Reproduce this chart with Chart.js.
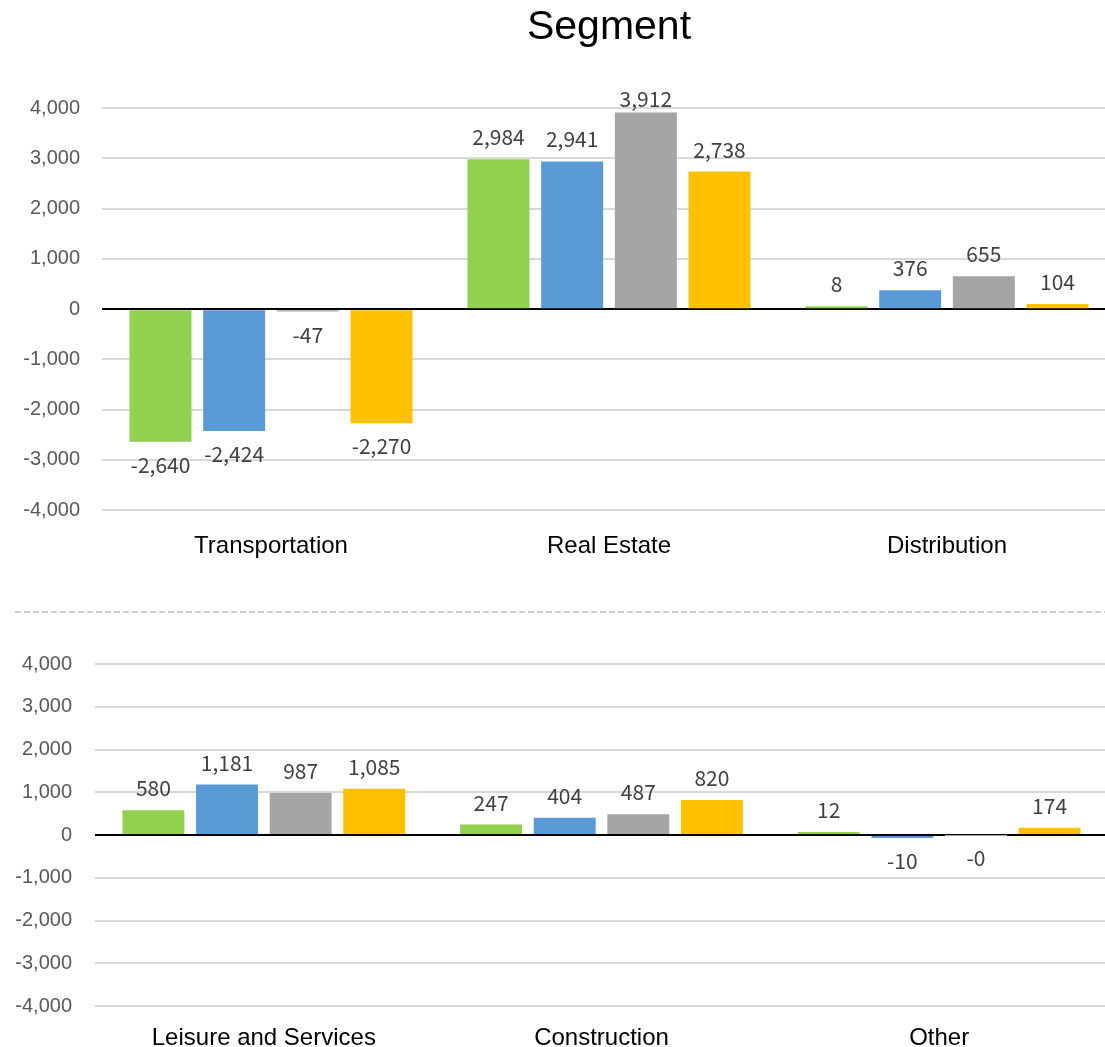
<!DOCTYPE html>
<html>
<head>
<meta charset="utf-8">
<title>Segment</title>
<script src="https://cdn.jsdelivr.net/npm/chart.js@4/dist/chart.umd.min.js"></script>
<style>
  html, body {
    margin: 0;
    padding: 0;
    width: 1105px;
    height: 1047px;
    overflow: hidden;
    background: #fff;
  }
  canvas {
    position: absolute;
    left: 0;
  }
  #top-chart { top: 0; }
  #bottom-chart { top: 620px; }
  .divider {
    position: absolute;
    left: 15px;
    top: 611px;
    width: 1090px;
    height: 2px;
    background: repeating-linear-gradient(to right, #cfcfcf 0 6px, transparent 6px 9px);
  }
</style>
</head>
<body>
<canvas id="top-chart" width="1120" height="593"></canvas>
<div class="divider"></div>
<canvas id="bottom-chart" width="1120" height="451"></canvas>

<script>
// Data
const topCategories = ['Transportation', 'Real Estate', 'Distribution'];
const bottomCategories = ['Leisure and Services', 'Construction', 'Other'];
const seriesNames = ['Series 1', 'Series 2', 'Series 3', 'Series 4'];

const series1Top = [-2640, 2984, 8];
const series2Top = [-2424, 2941, 376];
const series3Top = [-47, 3912, 655];
const series4Top = [-2270, 2738, 104];

const series1Bottom = [580, 247, 12];
const series2Bottom = [1181, 404, -10];
const series3Bottom = [987, 487, -0.3];
const series4Bottom = [1085, 820, 174];

const yMin = -4000;
const yMax = 4000;
const yStep = 1000;

const colors = ['#92D050', '#5B9BD5', '#A5A5A5', '#FFC000'];
const fmt = new Intl.NumberFormat('en-US', { maximumFractionDigits: 0 });

// Value labels above / below each bar
const valueLabels = {
  id: 'valueLabels',
  afterDatasetsDraw(chart) {
    const { ctx, chartArea } = chart;
    ctx.save();
    ctx.font = '21px "Noto Sans CJK KR", "Liberation Sans", sans-serif';
    ctx.fillStyle = '#404040';
    ctx.textAlign = 'center';
    ctx.textBaseline = 'middle';
    chart.data.datasets.forEach((ds, di) => {
      const meta = chart.getDatasetMeta(di);
      meta.data.forEach((bar, i) => {
        const v = ds.data[i];
        let y = v >= 0 ? bar.y - 22 : bar.y + 23;
        y = Math.max(y, chartArea.top - 9);
        ctx.fillText(fmt.format(v), bar.x, y);
      });
    });
    ctx.restore();
  }
};

function buildDatasets(valueLists) {
  return valueLists.map((values, i) => ({
    label: seriesNames[i],
    data: values,
    backgroundColor: colors[i],
    categoryPercentage: 0.872,
    barPercentage: 0.841,
    // tiny values still show as a thin bar, except the grey series
    minBarLength: i === 2 ? 0 : 3
  }));
}

function makeChart(canvasId, categories, valueLists, cfg) {
  return new Chart(document.getElementById(canvasId), {
    type: 'bar',
    data: {
      labels: categories,
      datasets: buildDatasets(valueLists)
    },
    options: {
      responsive: false,
      animation: false,
      devicePixelRatio: 1,
      layout: { padding: cfg.padding },
      plugins: {
        legend: { display: false },
        tooltip: { enabled: false },
        title: cfg.title
      },
      scales: {
        x: {
          grid: { display: false, drawTicks: false },
          border: { display: false },
          ticks: {
            color: '#000',
            padding: cfg.xPad,
            font: { family: '"Liberation Sans", Arial, sans-serif', size: 24 }
          }
        },
        y: {
          min: yMin,
          max: yMax,
          border: { display: false },
          grid: {
            drawTicks: false,
            color: c => c.tick.value === 0 ? '#000' : '#d9d9d9',
            lineWidth: 2
          },
          ticks: {
            stepSize: yStep,
            padding: cfg.yPad,
            color: '#595959',
            font: { family: '"Liberation Sans", Arial, sans-serif', size: 20 },
            callback: v => fmt.format(v)
          },
          afterFit(scale) {
            scale.width = cfg.yWidth;
          }
        }
      }
    },
    plugins: [valueLabels]
  });
}

// Charts
makeChart('top-chart', topCategories,
  [series1Top, series2Top, series3Top, series4Top], {
    padding: { left: 0, right: 4, top: 0, bottom: 10 },
    xPad: 22,
    yPad: 22,
    yWidth: 102,
    title: {
      display: true,
      text: 'Segment',
      fullSize: false,
      color: '#000',
      font: { family: '"Liberation Sans", Arial, sans-serif', size: 41, weight: 'normal' },
      padding: { top: 3, bottom: 56 }
    }
  });

makeChart('bottom-chart', bottomCategories,
  [series1Bottom, series2Bottom, series3Bottom, series4Bottom], {
    padding: { left: 0, right: 12, top: 44, bottom: 0 },
    xPad: 18,
    yPad: 23,
    yWidth: 95,
    title: { display: false }
  });
</script>
</body>
</html>
